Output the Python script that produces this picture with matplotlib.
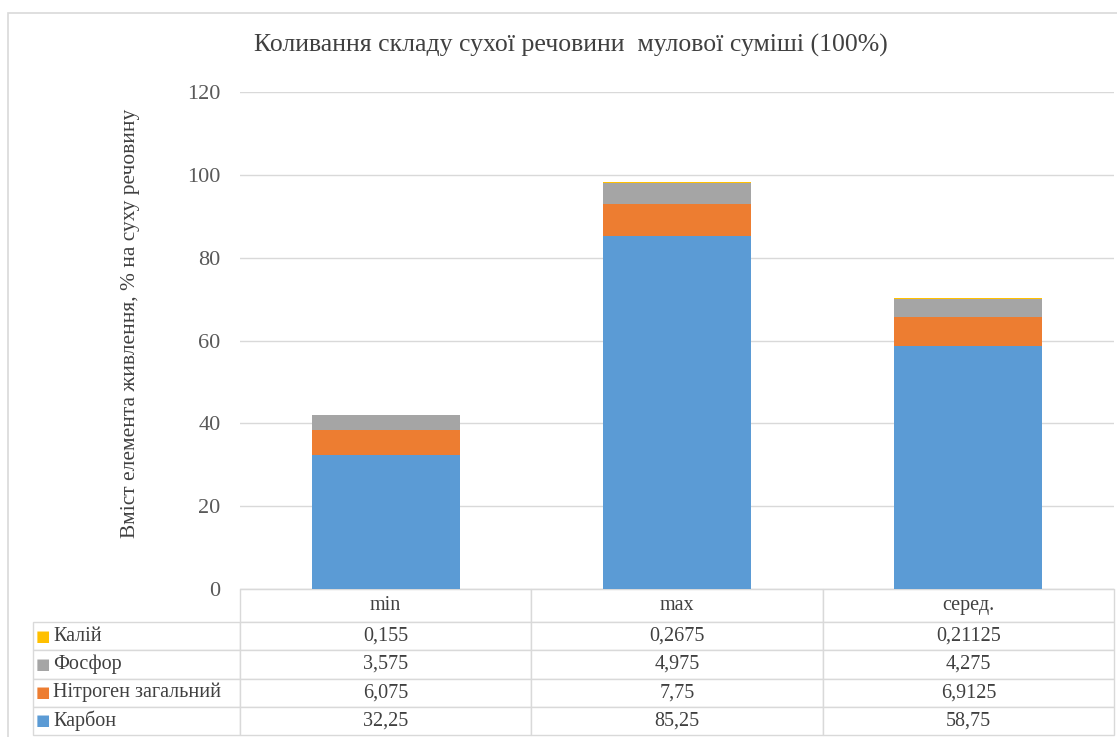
import matplotlib
matplotlib.use('Agg')
import matplotlib.pyplot as plt
import numpy as np
from matplotlib.patches import Rectangle

plt.rcParams['font.family'] = ['Liberation Serif', 'DejaVu Serif']

categories = ['min', 'max', 'серед.']
series_names = ['Карбон', 'Нітроген загальний', 'Фосфор', 'Калій']
carbon = [32.25, 85.25, 58.75]
nitrogen = [6.075, 7.75, 6.9125]
phosphorus = [3.575, 4.975, 4.275]
potassium = [0.155, 0.2675, 0.21125]
colors = ['#5B9BD5', '#ED7D31', '#A5A5A5', '#FFC000']

title = 'Коливання складу сухої речовини  мулової суміші (100%)'
ylabel = 'Вміст елемента живлення, % на суху речовину'

W, H = 1117, 737
fig = plt.figure(figsize=(W / 100, H / 100), dpi=100)
# axes placed in pixel terms of the reference
ax = fig.add_axes([240 / W, 1 - 589 / H, 874 / W, 497 / H])

# outer chart border
fig.patches.append(Rectangle((8 / W, -0.05), 1.2, 1 - 13 / H + 0.05, transform=fig.transFigure,
                             fill=False, edgecolor='#D9D9D9', linewidth=1.2))

x = np.arange(len(categories))
series = [carbon, nitrogen, phosphorus, potassium]
bottom = np.zeros(len(categories))
for vals, name, col in zip(series, series_names, colors):
    ax.bar(x, vals, width=0.508, bottom=bottom, color=col, label=name, zorder=3)
    bottom += np.array(vals)

ax.set_xlim(-0.5, len(categories) - 0.5)
ax.set_ylim(0, 120)
ax.set_yticks(np.arange(0, 121, 20))
ax.yaxis.grid(True, color='#D9D9D9', linewidth=1, zorder=0)
ax.set_axisbelow(True)
for s in ['left', 'right', 'top']:
    ax.spines[s].set_visible(False)
ax.spines['bottom'].set_color('#D9D9D9')
ax.tick_params(axis='y', length=0, pad=14, labelsize=16, labelcolor='#595959')
ax.set_xticks([])

# data table under the axes
fmt = lambda v: ('%g' % v).replace('.', ',')
rows = list(zip(series_names, series, colors))[::-1]
cell_text = [[name] + [fmt(v) for v in vals] for name, vals, _ in rows]
lab_w = 207 / 874
tab_h = 146 / 497
hdr_h = 33 / 497
row_h = (tab_h - hdr_h) / len(rows)
tbl = ax.table(cellText=cell_text, colLabels=[''] + categories,
               colWidths=[lab_w] + [1 / 3] * 3,
               bbox=[-lab_w, -tab_h, 1 + lab_w, tab_h],
               cellLoc='center')
tbl.auto_set_font_size(False)
tbl.set_fontsize(14.5)
for (r, c), cell in tbl.get_celld().items():
    cell.set_edgecolor('#D9D9D9')
    cell.set_linewidth(1)
    cell.get_text().set_color('#404040')
    cell.set_height(hdr_h if r == 0 else row_h)
    if r == 0 and c == 0:
        cell.visible_edges = 'open'
    if c == 0 and r > 0:
        cell.get_text().set_horizontalalignment('left')
        cell.PAD = 0.097

# legend keys in label column
for i, (name, vals, col) in enumerate(rows):
    yc = -(hdr_h + (i + 0.5) * row_h)
    ax.text(-lab_w + 0.003, yc, '■', color=col, fontsize=11, va='center', ha='left',
            transform=ax.transAxes, family='DejaVu Sans')

fig.text(571 / W, 1 - 45 / H, title, ha='center', va='center', fontsize=18.5, color='#404040')
fig.text(131 / W, 1 - 323 / H, ylabel, ha='center', va='center', rotation=90,
         fontsize=15.4, color='#404040')

fig.savefig('out.png', dpi=100)
